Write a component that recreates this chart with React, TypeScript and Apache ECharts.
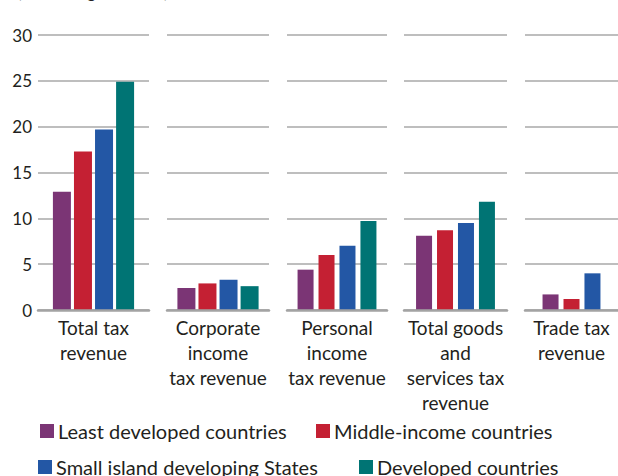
import React, { useEffect, useRef } from "react";
import * as echarts from "echarts";

const categories = [
  "Total tax\nrevenue",
  "Corporate\nincome\ntax revenue",
  "Personal\nincome\ntax revenue",
  "Total goods\nand\nservices tax\nrevenue",
  "Trade tax\nrevenue",
];
const seriesNames = [
  "Least developed countries",
  "Middle-income countries",
  "Small island developing States",
  "Developed countries",
];
const leastDeveloped = [12.9, 2.4, 4.4, 8.1, 1.7];
const middleIncome = [17.3, 2.9, 6.0, 8.7, 1.2];
const smallIsland = [19.7, 3.3, 7.0, 9.5, 4.0];
const developed: (number | null)[] = [24.9, 2.6, 9.7, 11.8, null];
const yMin = 0;
const yMax = 30;
const yInterval = 5;
const unitTitle = "(Percentage of GDP)";

const colors = ["#7b3575", "#c42033", "#2357a5", "#007474"];
const gridLeft = [38, 167, 287, 404, 525];
const gridWidth = [111, 102, 100, 103, 94];
const barWidths = [18, 18, 16, 16, 16];
const barGaps = ["17%", "17%", "31%", "31%", "31%"];
const FONT = "Lato";
const TEXT = "#231f20";

export default function App() {
  const ref = useRef<HTMLDivElement>(null);
  useEffect(() => {
    if (!ref.current) return;
    const chart = echarts.init(ref.current, null, { renderer: "svg" });
    const values = [leastDeveloped, middleIncome, smallIsland, developed];
    const grids = categories.map((_, g) => ({
      left: gridLeft[g],
      width: gridWidth[g],
      top: 35,
      bottom: 166,
      containLabel: false,
    }));
    const xAxes = categories.map((c, g) => ({
      type: "category",
      gridIndex: g,
      data: [c],
      z: 3,
      axisTick: { show: false },
      axisLine: { show: true, lineStyle: { color: "#a3a3a3", width: 2.5 } },
      axisLabel: {
        interval: 0,
        margin: 5,
        fontFamily: FONT,
        fontSize: 19,
        lineHeight: 25,
        color: TEXT,
        align: "center",
      },
    }));
    const yAxes = categories.map((_, g) => ({
      type: "value",
      gridIndex: g,
      min: yMin,
      max: yMax,
      interval: yInterval,
      axisLine: { show: false },
      axisTick: { show: false },
      axisLabel: {
        show: g === 0,
        margin: 6,
        fontFamily: FONT,
        fontSize: 17,
        color: TEXT,
      },
      splitLine: { show: true, lineStyle: { color: "#a8a8a8", width: 1.5 } },
    }));
    const series: any[] = [];
    categories.forEach((_, g) => {
      values.forEach((arr, s) => {
        const v = arr[g];
        if (v === null || v === undefined) return;
        series.push({
          type: "bar",
          name: seriesNames[s],
          xAxisIndex: g,
          yAxisIndex: g,
          data: [v],
          barWidth: barWidths[g],
          barGap: barGaps[g],
          itemStyle: { color: colors[s] },
        });
      });
    });
    const legendPos = [
      { left: 40, top: 421 },
      { left: 316, top: 421 },
      { left: 38, top: 457 },
      { left: 359, top: 457 },
    ];
    const legends = seriesNames.map((n, i) => ({
      data: [n],
      left: legendPos[i].left,
      top: legendPos[i].top,
      padding: 0,
      icon: "rect",
      itemWidth: 14,
      itemHeight: 14,
      itemGap: 0,
      selectedMode: false,
      textStyle: { fontFamily: FONT, fontSize: 20, color: TEXT, lineHeight: 20, padding: [0, 0, 0, -1] },
    }));
    chart.setOption({
      animation: false,
      color: colors,
      grid: grids,
      xAxis: xAxes,
      yAxis: yAxes,
      legend: legends,
      series,
      graphic: [
        {
          type: "text",
          left: 17,
          top: -17,
          style: { text: unitTitle, fontFamily: FONT, fontSize: 17, fill: TEXT },
        },
      ],
    });
    return () => chart.dispose();
  }, []);
  return (
    <div
      ref={ref}
      style={{ position: "fixed", left: 0, top: 0, width: 618, height: 476, background: "#fff" }}
    />
  );
}
